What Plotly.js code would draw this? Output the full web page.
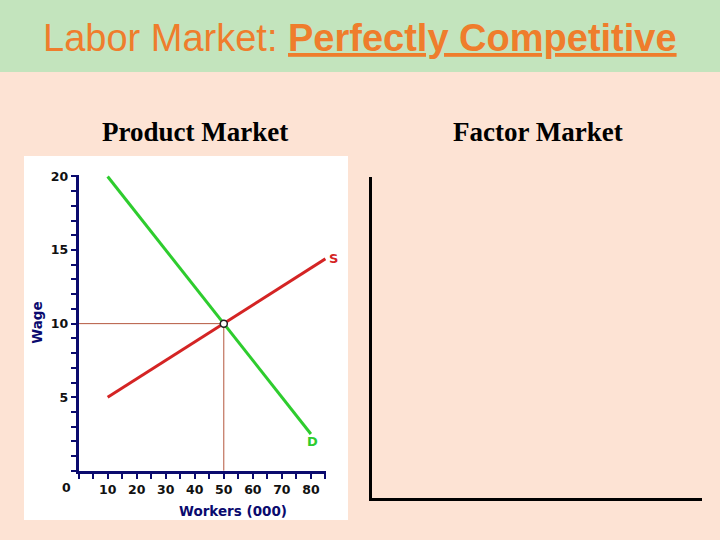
<!DOCTYPE html>
<html>
<head>
<meta charset="utf-8">
<script src="https://cdn.plot.ly/plotly-3.0.1.min.js"></script>
<style>html,body{margin:0;padding:0;background:#fde3d4;}#chart{width:720px;height:540px;}</style>
</head>
<body>
<div id="chart"></div>
<script>
// ---- data ----
const demandX = [10, 80];
const demandY = [20, 2.5];
const supplyX = [10, 85];
const supplyY = [5, 14.4];
const guideX = [0, 50, 50];
const guideY = [10, 10, 0];
const eqX = [50];
const eqY = [10];
const xTickVals = [10, 20, 30, 40, 50, 60, 70, 80];
const yTickVals = [5, 10, 15, 20];
const titleText = 'Labor Market: <b><u>Perfectly Competitive</u></b>';
const leftHeading = 'Product Market';
const rightHeading = 'Factor Market';
const xAxisTitle = 'Workers (000)';
const yAxisTitle = 'Wage';

const W = 720, H = 540;
const px = v => v / W;
const py = v => 1 - v / H;
const navy = '#0a0a6e';
const tickFont = {family: 'DejaVu Sans', size: 12.5, color: '#111111', weight: 'bold'};

const traces = [
  {x: guideX, y: guideY, mode: 'lines', line: {color: '#b4573e', width: 1}, hoverinfo: 'skip', showlegend: false},
  {x: supplyX, y: supplyY, mode: 'lines', line: {color: '#d42424', width: 3}, name: 'S', showlegend: false},
  {x: demandX, y: demandY, mode: 'lines', line: {color: '#2ecc2e', width: 3}, name: 'D', showlegend: false},
  {x: eqX, y: eqY, mode: 'markers', marker: {symbol: 'circle', size: 7, color: '#ffffff', line: {color: '#222222', width: 1.5}}, showlegend: false},
  {x: [], y: [], xaxis: 'x2', yaxis: 'y2', mode: 'lines', showlegend: false, hoverinfo: 'skip'}
];

const layout = {
  width: W, height: H, autosize: false,
  margin: {l: 0, r: 0, t: 0, b: 0},
  paper_bgcolor: '#fde3d4',
  plot_bgcolor: 'rgba(0,0,0,0)',
  showlegend: false,
  xaxis: {
    domain: [px(78.6), px(326)], range: [0, 85.2], anchor: 'y',
    showline: true, linecolor: navy, linewidth: 3, zeroline: false, showgrid: false,
    tickmode: 'array', tickvals: xTickVals, ticks: 'outside', ticklen: 5, tickwidth: 2, tickcolor: navy,
    minor: {tick0: 0, dtick: 5, ticks: 'outside', ticklen: 5, tickwidth: 2, tickcolor: navy, showgrid: false},
    tickfont: tickFont, fixedrange: true
  },
  yaxis: {
    domain: [1 - 470.8 / H, 1 - 175 / H], range: [0, 20.1], anchor: 'x',
    showline: true, linecolor: navy, linewidth: 3, zeroline: false, showgrid: false,
    tickmode: 'array', tickvals: yTickVals, ticks: 'outside', ticklen: 5, tickwidth: 2, tickcolor: navy,
    minor: {tick0: 0, dtick: 1, ticks: 'outside', ticklen: 5, tickwidth: 2, tickcolor: navy, showgrid: false},
    tickfont: tickFont, fixedrange: true
  },
  xaxis2: {
    domain: [px(372.3), px(701.7)], range: [0, 1], anchor: 'y2',
    showline: true, linecolor: '#000000', linewidth: 3, zeroline: false, showgrid: false,
    showticklabels: false, ticks: '', fixedrange: true
  },
  yaxis2: {
    domain: [1 - 498.3 / H, 1 - 176.7 / H], range: [0, 1], anchor: 'x2',
    showline: true, linecolor: '#000000', linewidth: 3, zeroline: false, showgrid: false,
    showticklabels: false, ticks: '', fixedrange: true
  },
  shapes: [
    {type: 'rect', xref: 'paper', yref: 'paper', x0: 0, x1: 1, y0: py(72), y1: 1, fillcolor: '#c3e4bd', line: {width: 0}, layer: 'below'},
    {type: 'rect', xref: 'paper', yref: 'paper', x0: px(24), x1: px(348), y0: py(520), y1: py(156), fillcolor: '#ffffff', line: {width: 0}, layer: 'below'}
  ],
  annotations: [
    {text: titleText, xref: 'paper', yref: 'paper', x: px(360), y: py(38), xanchor: 'center', yanchor: 'middle', showarrow: false,
     font: {family: 'Liberation Sans, Arial, sans-serif', size: 38, color: '#ef7d2c'}},
    {text: '<b>' + leftHeading + '</b>', xref: 'paper', yref: 'paper', x: px(194.5), y: py(132), xanchor: 'center', yanchor: 'middle', showarrow: false,
     font: {family: 'Liberation Serif, Times New Roman, serif', size: 27, color: '#000000'}},
    {text: '<b>' + rightHeading + '</b>', xref: 'paper', yref: 'paper', x: px(537.5), y: py(132), xanchor: 'center', yanchor: 'middle', showarrow: false,
     font: {family: 'Liberation Serif, Times New Roman, serif', size: 27, color: '#000000'}},
    {text: '<b>' + yAxisTitle + '</b>', xref: 'paper', yref: 'paper', x: px(36.7), y: py(323), xanchor: 'center', yanchor: 'middle', textangle: -90, showarrow: false,
     font: {family: 'DejaVu Sans', size: 13.5, color: navy}},
    {text: '<b>' + xAxisTitle + '</b>', xref: 'paper', yref: 'paper', x: px(233), y: py(510.7), xanchor: 'center', yanchor: 'middle', showarrow: false,
     font: {family: 'DejaVu Sans', size: 13.5, color: navy}},
    {text: '<b>0</b>', xref: 'paper', yref: 'paper', x: px(66.7), y: py(487.7), xanchor: 'center', yanchor: 'middle', showarrow: false,
     font: tickFont},
    {text: '<b>S</b>', xref: 'paper', yref: 'paper', x: px(333.5), y: py(258.3), xanchor: 'center', yanchor: 'middle', showarrow: false,
     font: {family: 'DejaVu Sans', size: 13, color: '#d42424'}},
    {text: '<b>D</b>', xref: 'x', yref: 'y', x: 80.4, y: 1.96, xanchor: 'center', yanchor: 'middle', showarrow: false,
     font: {family: 'DejaVu Sans', size: 13, color: '#2ecc2e'}}
  ]
};

Plotly.newPlot('chart', traces, layout, {displayModeBar: false, staticPlot: true});
</script>
</body>
</html>
